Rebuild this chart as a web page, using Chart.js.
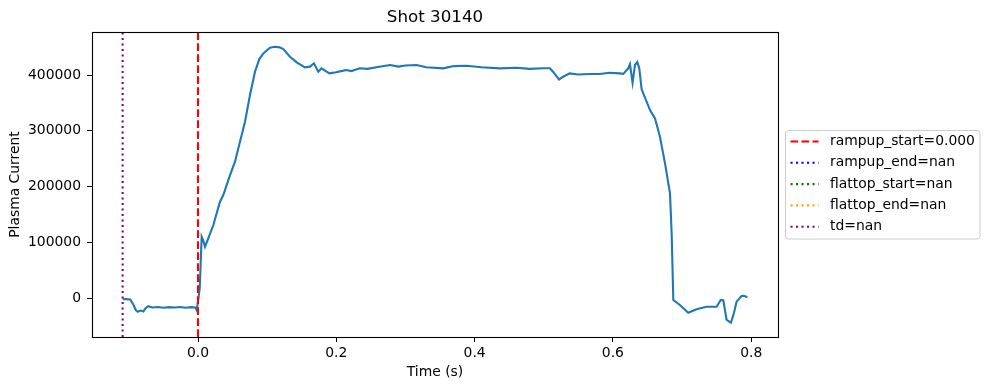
<!DOCTYPE html>
<html>
<head>
<meta charset="utf-8">
<script src="https://cdn.jsdelivr.net/npm/chart.js@4.4.1/dist/chart.umd.min.js"></script>
<style>
  html, body { margin: 0; padding: 0; background: #fff; }
  #wrap { width: 989px; height: 390px; }
</style>
</head>
<body>
<div id="wrap"><canvas id="chart" width="989" height="390"></canvas></div>
<script>
// ─── Data ────────────────────────────────────────────────
const TITLE = "Shot 30140";
const X_LABEL = "Time (s)";
const Y_LABEL = "Plasma Current";

const TIME = [
  -0.109, -0.104, -0.098, -0.094, -0.090, -0.087, -0.083, -0.079, -0.076, -0.072,
  -0.066, -0.058, -0.050, -0.042, -0.034, -0.026, -0.018, -0.010, -0.004, -0.002,
  0.000, 0.0025, 0.0053, 0.0075, 0.0101, 0.0149, 0.0222, 0.0318, 0.0366, 0.0463,
  0.0535, 0.0607, 0.068, 0.0752, 0.0824, 0.0887, 0.0945, 0.1041, 0.1113, 0.118,
  0.1234, 0.1330, 0.1427, 0.1547, 0.162, 0.1677, 0.174, 0.1786, 0.190, 0.200,
  0.207, 0.2146, 0.222, 0.234, 0.245, 0.258, 0.2777, 0.290, 0.300, 0.316,
  0.330, 0.3547, 0.370, 0.3885, 0.410, 0.4367, 0.460, 0.480, 0.500, 0.509,
  0.5134, 0.5221, 0.528, 0.5375, 0.550, 0.5669, 0.581, 0.595, 0.610, 0.615,
  0.6222, 0.6247, 0.6285, 0.632, 0.6353, 0.6382, 0.6416, 0.6537, 0.6609, 0.6681,
  0.6754, 0.6826, 0.685, 0.6874, 0.697, 0.709, 0.721, 0.7356, 0.750, 0.7559,
  0.7597, 0.7645, 0.7707, 0.775, 0.7789, 0.7861, 0.7895, 0.7944
];
const CURRENT = [
  -1800, -1500, -2000, -10000, -21000, -24000, -22000, -23500, -18000, -14000,
  -16500, -15500, -16800, -15800, -16500, -15600, -16800, -15800, -16500, -21000,
  -6000, 17900, 110300, 104000, 92400, 107500, 131300, 173000, 185000, 220800,
  244700, 280500, 316300, 364100, 406000, 428600, 438800, 448900, 450700, 449500,
  446500, 432800, 422700, 413800, 415000, 421000, 406000, 412000, 403000, 405000,
  407000, 409000, 407000, 412000, 411000, 414000, 418000, 415000, 417000, 418000,
  414000, 412000, 416000, 416600, 414000, 412000, 413000, 411000, 412000, 412000,
  406000, 392000, 397000, 403000, 401000, 401700, 401700, 404000, 403000, 402000,
  412000, 419700, 386000, 418000, 423200, 412000, 374400, 337300, 322400, 289400,
  241800, 188000, 116400, -3000, -12000, -25800, -19700, -15000, -15000, -3000,
  -3500, -38800, -43700, -26900, -6000, 4100, 4500, 1800
];

const MARKER_LABELS = ["rampup_start=0.000", "rampup_end=nan", "flattop_start=nan", "flattop_end=nan", "td=nan"];
const MARKER_TIMES  = [0.0, NaN, NaN, NaN, -0.109];

const X_TICKS = [0, 0.2, 0.4, 0.6, 0.8];
const Y_TICKS = [0, 100000, 200000, 300000, 400000];
const X_RANGE = [-0.1533, 0.8388];
const Y_RANGE = [-69300, 477000];

// ─── Style ───────────────────────────────────────────────
const FONT = "DejaVu Sans";
const LINE_BLUE = "#1f77b4";
const MARKER_COLORS = ["red", "blue", "green", "orange", "purple"];
const DASHED = [7.7, 3.3];
const DOTTED = [2.1, 3.4];
const MARKER_DASHES = [DASHED, DOTTED, DOTTED, DOTTED, DOTTED];

Chart.defaults.font.family = FONT;
Chart.defaults.font.size = 13.9;
Chart.defaults.color = "#000";

// ─── Plugins ─────────────────────────────────────────────
const frame = {
  id: "frame",
  afterDatasetsDraw(chart) {
    const { ctx, chartArea: a } = chart;
    ctx.save();
    ctx.strokeStyle = "#000";
    ctx.lineWidth = 1.1;
    ctx.strokeRect(Math.round(a.left) + 0.5, Math.round(a.top) + 0.5,
                   Math.round(a.right - a.left), Math.round(a.bottom - a.top));
    ctx.restore();
  }
};

const boxLegend = {
  id: "boxLegend",
  afterDraw(chart) {
    const { ctx, chartArea: a } = chart;
    const items = chart.data.datasets.filter(d => d.isMarker);
    const rowH = 21.3;
    const w = 194.5, h = items.length * rowH + 2;
    const x0 = Math.round(a.right) + 7.5;
    const y0 = Math.round((a.top + a.bottom) / 2 - h / 2) + 0.5;

    ctx.save();
    ctx.beginPath();
    ctx.roundRect(x0, y0, w, h, 3);
    ctx.fillStyle = "rgba(255,255,255,0.8)";
    ctx.fill();
    ctx.strokeStyle = "#cccccc";
    ctx.lineWidth = 1;
    ctx.stroke();

    ctx.font = "13.9px " + FONT;
    ctx.textBaseline = "middle";
    ctx.textAlign = "left";
    items.forEach((d, i) => {
      const cy = y0 + 11 + i * rowH;
      ctx.beginPath();
      ctx.setLineDash(d.borderDash);
      ctx.strokeStyle = d.borderColor;
      ctx.lineWidth = 2.1;
      ctx.moveTo(x0 + 5, cy);
      ctx.lineTo(x0 + 33, cy);
      ctx.stroke();
      ctx.setLineDash([]);
      ctx.fillStyle = "#000";
      ctx.fillText(d.label, x0 + 44.5, cy);
    });
    ctx.restore();
  }
};

// ─── Chart ───────────────────────────────────────────────
const signal = {
  label: "Ip",
  data: TIME.map((t, i) => ({ x: t, y: CURRENT[i] })),
  borderColor: LINE_BLUE,
  borderWidth: 2.1,
  pointRadius: 0,
  tension: 0,
  order: 2
};

const markers = MARKER_LABELS.map((label, i) => ({
  label,
  isMarker: true,
  data: Number.isFinite(MARKER_TIMES[i])
    ? [{ x: MARKER_TIMES[i], y: Y_RANGE[0] }, { x: MARKER_TIMES[i], y: Y_RANGE[1] }]
    : [],
  borderColor: MARKER_COLORS[i],
  borderDash: MARKER_DASHES[i],
  borderWidth: 2.1,
  pointRadius: 0,
  order: 1
}));

new Chart(document.getElementById("chart"), {
  type: "line",
  data: { datasets: [signal, ...markers] },
  options: {
    responsive: false,
    devicePixelRatio: 1,
    animation: false,
    layout: { padding: { left: 0, right: 211, top: 0, bottom: 0 } },
    plugins: {
      legend: { display: false },
      tooltip: { enabled: false },
      title: {
        display: true,
        text: TITLE,
        fullSize: false,
        color: "#000",
        font: { size: 16.7, weight: "normal" },
        padding: { top: 8, bottom: 4 }
      }
    },
    scales: {
      x: {
        type: "linear",
        min: X_RANGE[0],
        max: X_RANGE[1],
        afterBuildTicks: s => { s.ticks = X_TICKS.map(v => ({ value: v })); },
        afterFit: s => { s.height = 53; },
        ticks: { callback: v => v.toFixed(1), padding: 3, maxRotation: 0, color: "#000" },
        grid: { display: true, drawOnChartArea: false, drawTicks: true, tickLength: 5, color: "#000" },
        border: { display: false },
        title: { display: true, text: X_LABEL, color: "#000", padding: { top: 0, bottom: 9.7 } }
      },
      y: {
        min: Y_RANGE[0],
        max: Y_RANGE[1],
        afterBuildTicks: s => { s.ticks = Y_TICKS.map(v => ({ value: v })); },
        afterFit: s => { s.width = 92; },
        ticks: { callback: v => String(v), padding: 6, color: "#000" },
        grid: { display: true, drawOnChartArea: false, drawTicks: true, tickLength: 5, color: "#000" },
        border: { display: false },
        title: { display: true, text: Y_LABEL, color: "#000", padding: { top: 6.7, bottom: 0 } }
      }
    }
  },
  plugins: [frame, boxLegend]
});
</script>
</body>
</html>
